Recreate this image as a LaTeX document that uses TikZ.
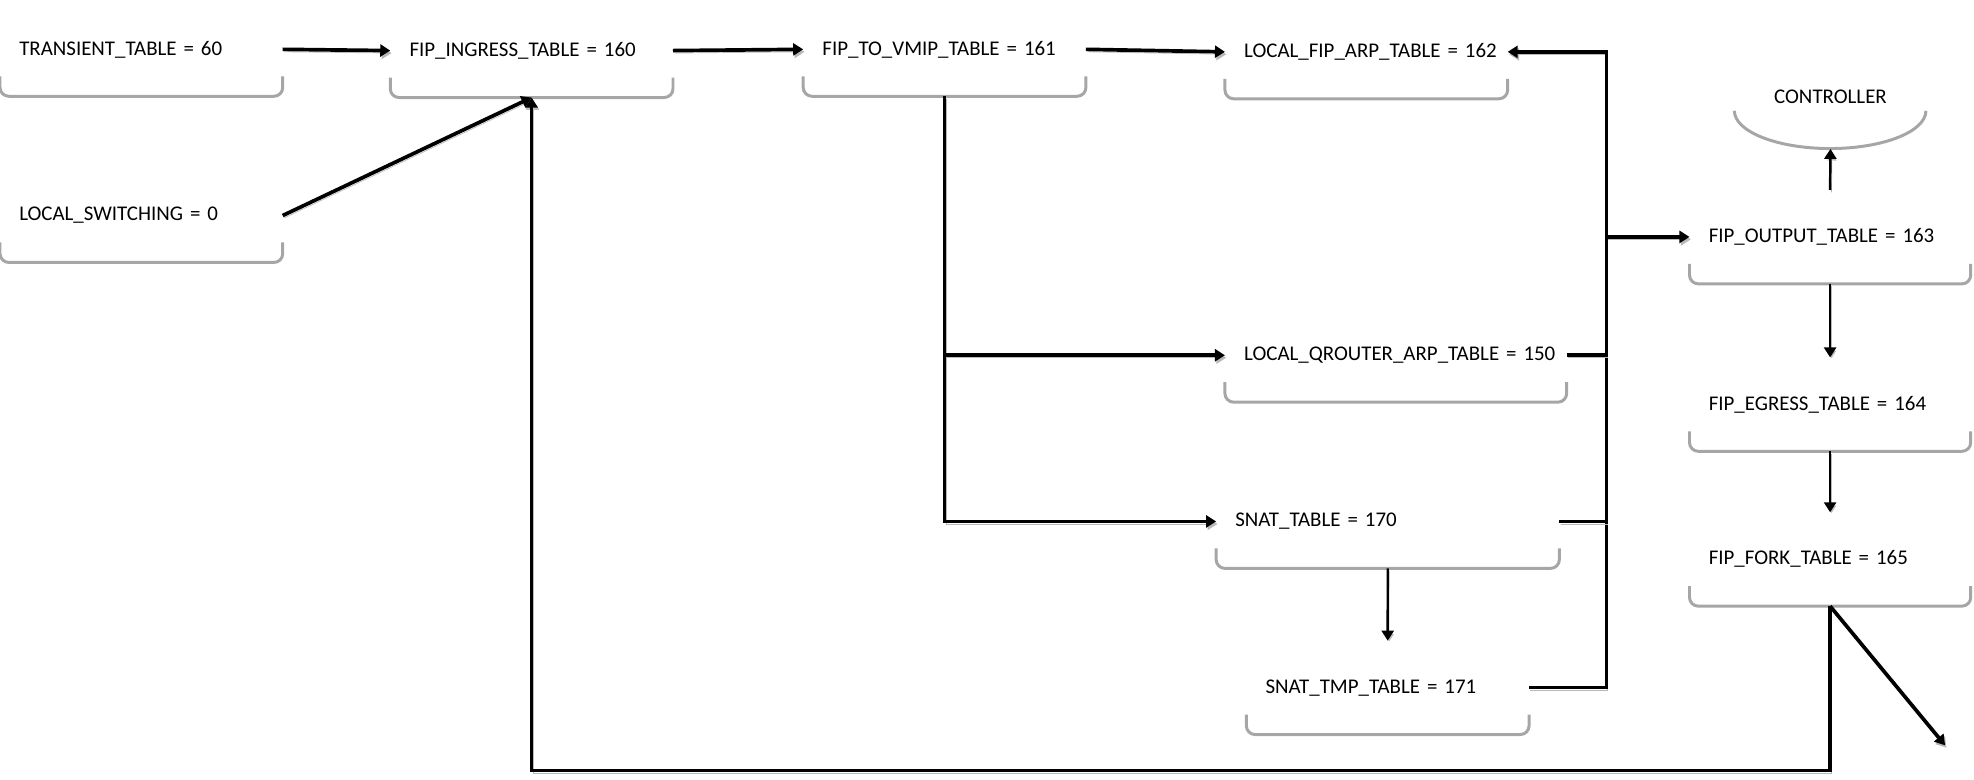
\documentclass[tikz,border=0pt]{standalone}
\usepackage{fontspec}
\setmainfont{Carlito}
\usetikzlibrary{arrows.meta,shapes.geometric}

\begin{document}
\begin{tikzpicture}[
  x=0.02518cm, y=-0.02518cm,
  tbl/.style={anchor=west, text width=#1, align=left, inner xsep=0pt, inner ysep=0pt,
    minimum height=1.863cm, yshift=-0.03cm, font=\fontsize{11.9}{14}\selectfont,
    execute at begin node=\hspace*{0.378cm}},
  tbl/.default=5.64cm,
  ctrlbox/.style={ellipse, minimum width=3.83cm, minimum height=1.51cm, inner sep=0pt,
    text height=0.3cm, text depth=0.58cm, font=\fontsize{11.9}{14}\selectfont},
  boxline/.style={draw=gray!70, line width=1.7pt, rounded corners=5pt},
  shadowed/.style={preaction={draw=gray!55, transform canvas={shift={(0.8pt,-1.4pt)}}}},
  link/.style={line width=2.1pt, shadowed},
  arr/.style={link, -{Triangle[length=2mm,width=2.4mm]}},
  thinarr/.style={arr, line width=1.4pt},
]
\useasboundingbox (0,0) rectangle (1568,619);

% Left: entry tables
\node[tbl] (trans) at (0,38) {TRANSIENT\_TABLE = 60};
\node[tbl] (lsw) at (0,170) {LOCAL\_SWITCHING = 0};
\node[tbl] (ingress) at (310,39) {FIP\_INGRESS\_TABLE = 160};
\node[tbl] (vmip) at (638,38) {FIP\_TO\_VMIP\_TABLE = 161};

% Middle: ARP and SNAT tables
\node[tbl] (farp) at (973,40) {LOCAL\_FIP\_ARP\_TABLE = 162};
\node[tbl=6.82cm] (qarp) at (973,281) {LOCAL\_QROUTER\_ARP\_TABLE = 150};
\node[tbl=6.85cm] (snat) at (966,413) {SNAT\_TABLE = 170};
\node[tbl] (tmp) at (990,545) {SNAT\_TMP\_TABLE = 171};

% Right: output chain
\node[ctrlbox] (ctrl) at (1454,88) {CONTROLLER};
\node[tbl=5.61cm] (output) at (1342,187) {FIP\_OUTPUT\_TABLE = 163};
\node[tbl=5.61cm] (egress) at (1342,320) {FIP\_EGRESS\_TABLE = 164};
\node[tbl=5.61cm] (fork) at (1342,443) {FIP\_FORK\_TABLE = 165};

\coordinate (bus) at (1276,0);
\coordinate (loop) at (0,612);
\coordinate (exit) at (1545,592);

% Box shadows
\foreach \n in {trans,lsw,ingress,vmip,farp,qarp,snat,tmp,output,egress,fork}
  \draw[boxline] ([yshift=0.4cm]\n.south west) -- (\n.south west) -- (\n.south east)
    -- ([yshift=0.4cm]\n.south east);
\draw[boxline, rounded corners=0pt] (ctrl.west) arc[start angle=180, end angle=360,
  x radius=1.915cm, y radius=0.755cm];

% Arrows
\draw[arr] (trans.east) -- (ingress.west);
\draw[arr] (lsw.east) -- (ingress.south);
\draw[arr] (ingress.east) -- (vmip.west);
\draw[arr] (vmip.east) -- (farp.west);
\draw[arr] (vmip.south) |- (snat.west);
\draw[arr] (vmip.south |- qarp.west) -- (qarp.west);
\draw[thinarr] (snat.south) -- (tmp.north);

% Collector bus
\draw[arr] (tmp.east) -| (bus |- farp.east) -- (farp.east);
\draw[link] (snat.east) -- (snat.east -| bus);
\draw[link] (qarp.east) -- (qarp.east -| bus);
\draw[arr] (bus |- output.west) -- (output.west);

% Output chain
\draw[thinarr] (output.north) -- (ctrl.south);
\draw[thinarr] (output.south) -- (egress.north);
\draw[thinarr] (egress.south) -- (fork.north);
\draw[arr] (fork.south) |- (ingress.south |- loop) -- (ingress.south);
\draw[arr] (fork.south) -- (exit);

\end{tikzpicture}
\end{document}
